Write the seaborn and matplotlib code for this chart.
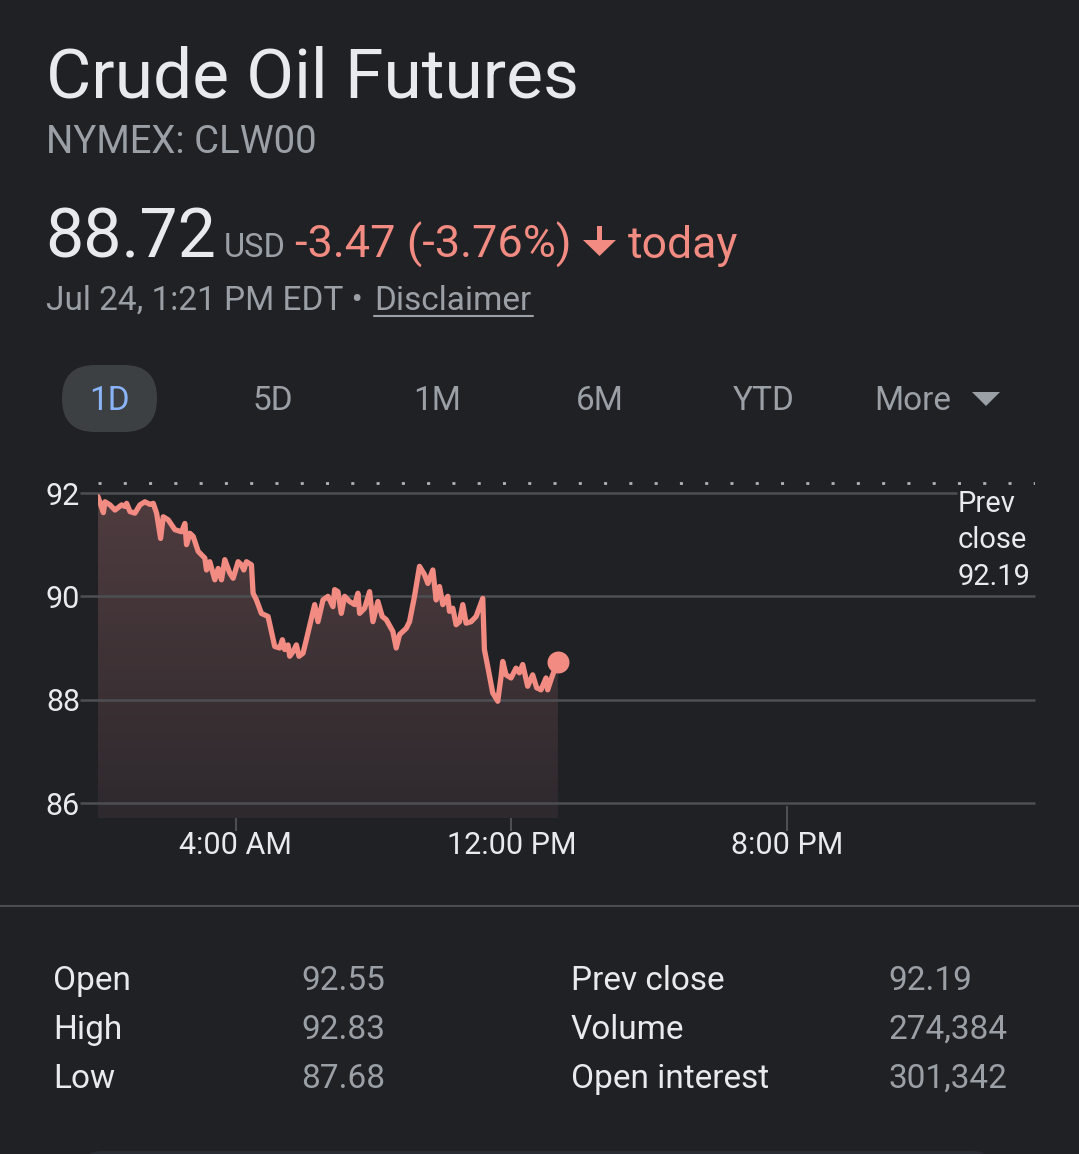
import numpy as np
import pandas as pd
import matplotlib
matplotlib.use("Agg")
import matplotlib.pyplot as plt
import seaborn as sns
from matplotlib.patches import FancyBboxPatch, Polygon, FancyArrow
from matplotlib.lines import Line2D
from matplotlib.transforms import IdentityTransform
from matplotlib.colors import LinearSegmentedColormap

# ---------------- data ----------------
hours = [0.00, 0.155, 0.203, 0.348, 0.493, 0.686, 0.783, 0.831, 0.928, 1.072,
         1.217, 1.362, 1.507, 1.604, 1.701, 1.817, 1.894, 2.039, 2.232, 2.425,
         2.522, 2.570, 2.667, 2.763, 2.908, 3.101, 3.150, 3.246, 3.391, 3.488,
         3.585, 3.681, 3.826, 3.923, 4.068, 4.164, 4.232, 4.309, 4.454, 4.502,
         4.599, 4.744, 4.937, 5.130, 5.275, 5.353, 5.420, 5.517, 5.565, 5.662,
         5.758, 5.836, 5.952, 6.048, 6.290, 6.386, 6.531, 6.676, 6.821, 6.870,
         6.966, 7.063, 7.159, 7.304, 7.449, 7.546, 7.594, 7.739, 7.884, 7.981,
         8.126, 8.251, 8.367, 8.560, 8.657, 8.754, 8.947, 9.043, 9.188, 9.333,
         9.478, 9.575, 9.720, 9.816, 9.913, 10.010, 10.155, 10.203, 10.300, 10.396,
         10.493, 10.590, 10.686, 10.831, 10.976, 11.169, 11.217, 11.314, 11.459, 11.604,
         11.701, 11.749, 11.845, 11.990, 12.135, 12.232, 12.329, 12.473, 12.618, 12.734,
         12.860, 13.005, 13.053, 13.198, 13.350]
prices = [91.93, 91.62, 91.83, 91.77, 91.67, 91.77, 91.74, 91.80, 91.64, 91.61,
          91.77, 91.83, 91.78, 91.80, 91.61, 91.12, 91.54, 91.48, 91.29, 91.25,
          91.41, 91.00, 91.22, 91.16, 90.87, 90.74, 90.51, 90.67, 90.32, 90.54,
          90.32, 90.71, 90.45, 90.35, 90.67, 90.61, 90.51, 90.67, 90.61, 90.06,
          89.93, 89.67, 89.61, 89.03, 89.00, 89.16, 88.97, 89.06, 88.84, 88.93,
          89.06, 88.84, 88.90, 89.16, 89.84, 89.51, 89.93, 90.00, 89.80, 90.13,
          90.09, 89.67, 90.00, 89.90, 89.84, 90.06, 89.67, 89.77, 90.09, 89.51,
          89.90, 89.61, 89.55, 89.32, 89.00, 89.26, 89.38, 89.51, 90.00, 90.58,
          90.42, 90.25, 90.51, 89.93, 90.19, 89.84, 90.00, 89.71, 89.77, 89.45,
          89.51, 89.84, 89.48, 89.51, 89.61, 89.96, 88.97, 88.64, 88.13, 87.97,
          88.45, 88.74, 88.48, 88.42, 88.61, 88.52, 88.68, 88.26, 88.48, 88.23,
          88.19, 88.42, 88.19, 88.48, 88.72]
prev_close = 92.19
y_ticks = [86, 88, 90, 92]
x_ticks = [4, 12, 20]
x_tick_labels = ["4:00 AM", "12:00 PM", "8:00 PM"]
range_labels = ["1D", "5D", "1M", "6M", "YTD", "More"]
stat_labels_left = ["Open", "High", "Low"]
stat_values_left = ["92.55", "92.83", "87.68"]
stat_labels_right = ["Prev close", "Volume", "Open interest"]
stat_values_right = ["92.19", "274,384", "301,342"]

# ---------------- style ----------------
W, H = 1079, 1154
BG = "#202124"
WHITE = "#e8eaed"
GRAY = "#9aa0a6"
RED = "#f28b82"
GRID = "#4d4f53"

sns.set_theme(style="dark", rc={"axes.facecolor": BG, "figure.facecolor": BG})
plt.rcParams["font.family"] = ["Roboto", "DejaVu Sans"]

fig = plt.figure(figsize=(W / 100, H / 100), dpi=100, facecolor=BG)


def fx(x):
    return x / W


def fy(y):
    return 1 - y / H


Y_LO, Y_HI = 85.71, 92.3
X_LO, X_HI = 0.0, 27.2
ax = fig.add_axes([98 / W, (H - 818) / H, 937 / W, (818 - 477.5) / H])
ax.set_facecolor(BG)

df = pd.DataFrame({"hour": hours, "price": prices})

# gradient fill under the line
poly = ax.fill_between(df["hour"], df["price"], Y_LO, color="none", lw=0)
grad = np.linspace(1, 0, 256).reshape(-1, 1)
cmap = LinearSegmentedColormap.from_list("fill", ["#2e292d", "#4f3c3f"])
im = ax.imshow(grad, extent=[hours[0], hours[-1], Y_LO, max(prices)],
               aspect="auto", cmap=cmap, vmin=0, vmax=1, origin="upper", zorder=1)
im.set_clip_path(poly.get_paths()[0], transform=ax.transData)

# grid lines
ax.hlines([86, 88, 90], -0.0192, 1.0, transform=ax.get_yaxis_transform(),
          colors=GRID, lw=1.8, clip_on=False, zorder=3)
ax.hlines([92], -0.0192, 0.9168, transform=ax.get_yaxis_transform(),
          colors=GRID, lw=1.8, clip_on=False, zorder=3)
# previous close dotted line
ax.axhline(prev_close, color="#aeb2b7", lw=2, linestyle=(0, (1.1, 8.0)), zorder=2)

sns.lineplot(data=df, x="hour", y="price", color=RED, lw=3.8, ax=ax, zorder=5)
ax.scatter([hours[-1]], [prices[-1]], s=250, color=RED, zorder=6, linewidths=0)

ax.set_xlim(X_LO, X_HI)
ax.set_ylim(Y_LO, Y_HI)
ax.set_xlabel("")
ax.set_ylabel("")
for s in ax.spines.values():
    s.set_visible(False)
ax.grid(False)
ax.set_yticks(y_ticks)
ax.set_yticklabels([str(v) for v in y_ticks])
ax.tick_params(axis="y", length=0, pad=13, labelsize=22, labelcolor=WHITE)
ax.set_xticks(x_ticks)
ax.set_xticklabels(x_tick_labels)
ax.tick_params(axis="x", direction="inout", length=18, width=1.5, color=GRID,
               pad=0, labelsize=22, labelcolor=WHITE, bottom=True)

# ---------------- header ----------------
fig.text(fx(46), fy(97), "Crude Oil Futures", fontsize=50, color=WHITE, va="baseline")
fig.text(fx(46), fy(153), "NYMEX: CLW00", fontsize=27.5, color=GRAY, va="baseline")
fig.text(fx(45), fy(258), "88.72", fontsize=49, color=WHITE, va="baseline")
fig.text(fx(224), fy(257), "USD", fontsize=23.5, color=GRAY, va="baseline")
fig.text(fx(295), fy(258), "-3.47 (-3.76%)", fontsize=32.5, color=RED, va="baseline")
fig.add_artist(FancyArrow(599.5, H - 226, 0, -30, width=5, head_width=33,
                          head_length=16, length_includes_head=True,
                          color=RED, lw=0, transform=IdentityTransform()))
fig.text(fx(628), fy(258), "today", fontsize=32, color=RED, va="baseline")
fig.text(fx(46), fy(310), "Jul 24, 1:21 PM EDT \u2022", fontsize=24, color=GRAY, va="baseline")
fig.text(fx(374), fy(310), "Disclaimer", fontsize=24, color=GRAY, va="baseline")
fig.add_artist(Line2D([374, 533], [H - 315.5, H - 315.5], color=GRAY, lw=1.5,
                      transform=IdentityTransform()))

# range selector
fig.add_artist(FancyBboxPatch((62, H - 432), 95, 67,
                              boxstyle="round,pad=0,rounding_size=33",
                              color="#3c4043", lw=0, transform=IdentityTransform()))
range_x = [110, 273, 437, 600, 764, 913]
for lab, xc in zip(range_labels, range_x):
    fig.text(fx(xc), fy(410), lab, fontsize=24, ha="center", va="baseline",
             color="#8ab4f8" if lab == "1D" else GRAY)
fig.add_artist(Polygon([[972, H - 392], [1000, H - 392], [986, H - 406]],
                       closed=True, color=GRAY, lw=0, transform=IdentityTransform()))

# prev close annotation
for txt, yb in zip(["Prev", "close", f"{prev_close:.2f}"], [512, 548, 585]):
    fig.text(fx(958), fy(yb), txt, fontsize=21, color=WHITE, va="baseline")

# separator
fig.add_artist(Line2D([0, W], [H - 906, H - 906], color="#4a4c50", lw=1.5,
                      transform=IdentityTransform()))

# stats table
for i, yb in enumerate([990, 1039, 1088]):
    fig.text(fx(53), fy(yb), stat_labels_left[i], fontsize=24, color=WHITE, va="baseline")
    fig.text(fx(301), fy(yb), stat_values_left[i], fontsize=24, color=GRAY, va="baseline")
    fig.text(fx(571), fy(yb), stat_labels_right[i], fontsize=24, color=WHITE, va="baseline")
    fig.text(fx(888), fy(yb), stat_values_right[i], fontsize=24, color=GRAY, va="baseline")

fig.add_artist(FancyBboxPatch((83, H - 1151 - 60), 908, 60,
                              boxstyle="round,pad=0,rounding_size=18",
                              color="#2a2c33", lw=0, transform=IdentityTransform()))

fig.savefig("out.png", dpi=100, facecolor=BG)
